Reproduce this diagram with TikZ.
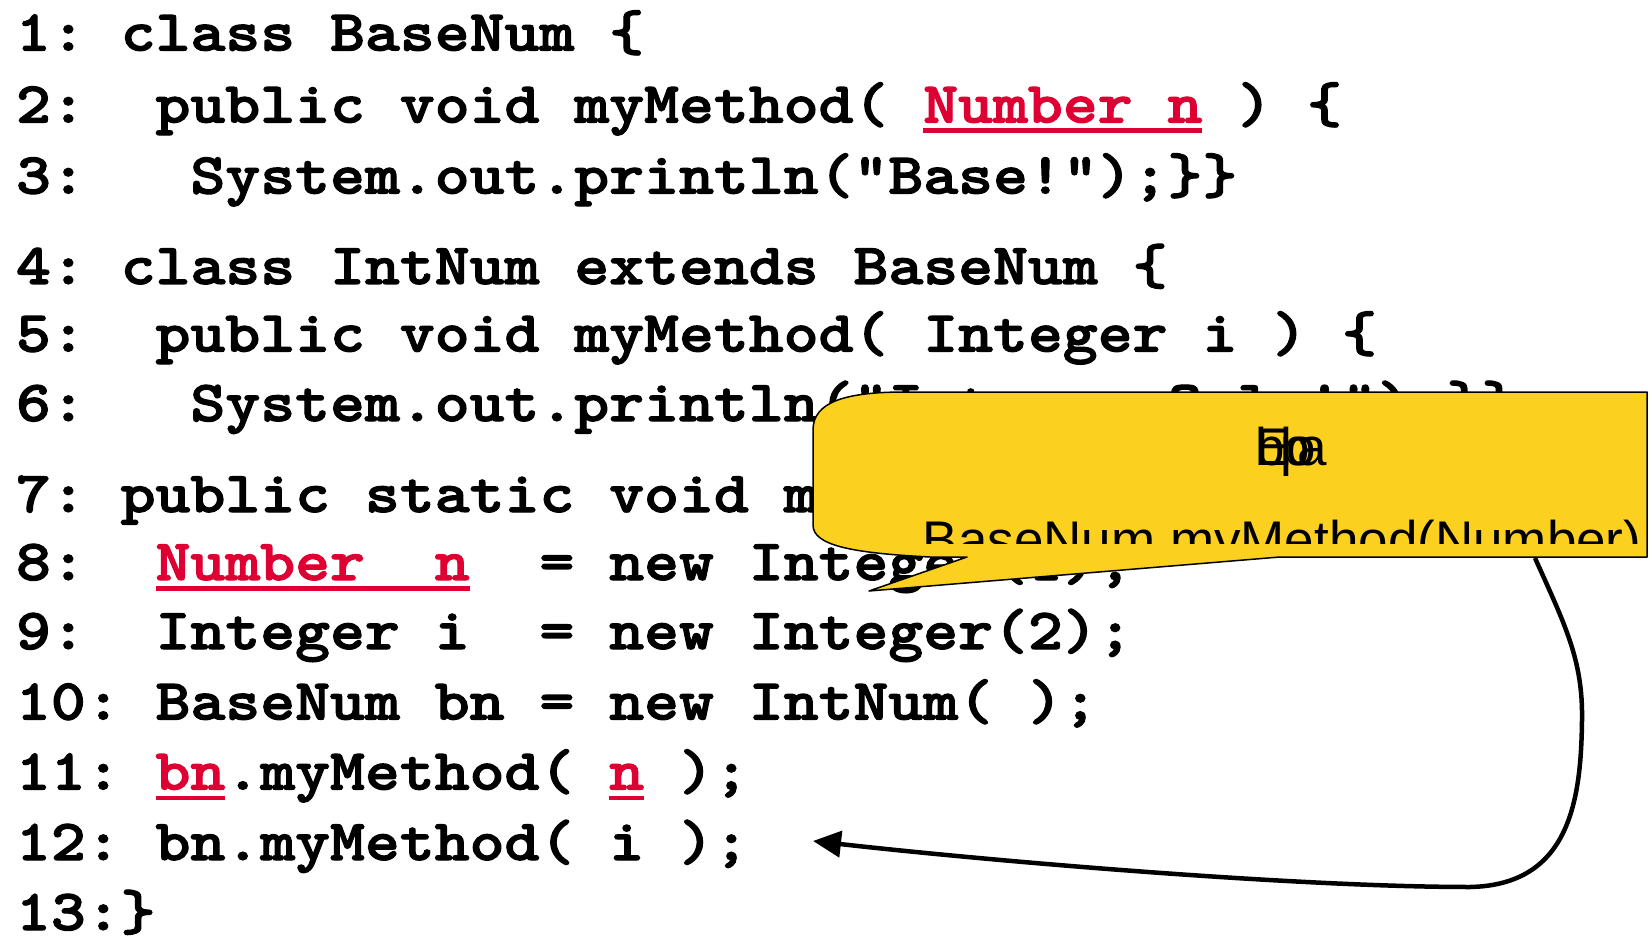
\documentclass[tikz,border=0pt]{standalone}
\usepackage{fontspec}
\usetikzlibrary{arrows.meta}
% bold typewriter face, widened to a 0.6em pitch
\newfontfamily\codefont{lmmonolt10-bold.otf}[FakeStretch=1.146, FakeBold=2]
\newfontfamily\notefont{Liberation Sans}
\definecolor{codered}{RGB}{222,0,50}
\definecolor{noteyellow}{RGB}{252,208,31}
% red, underlined code fragment
\newcommand\redul[1]{\sbox0{\textcolor{codered}{#1}}\rlap{\textcolor{codered}{\rule[-10.5pt]{\wd0}{4.5pt}}}\usebox0}
\tikzset{
  codeline/.style={anchor=base west, inner sep=0pt, outer sep=0pt,
    font=\codefont\fontsize{58pt}{58pt}\selectfont},
  notetext/.style={inner sep=0pt, outer sep=0pt,
    font=\notefont\fontsize{53pt}{53pt}\selectfont},
  balloon/.style={fill=noteyellow, draw=black, line width=1.5pt, line join=round},
  callarrow/.style={draw=black, line width=4.5pt, -{Triangle[length=28pt,width=26pt]}}
}
\begin{document}
\begin{tikzpicture}[x=1pt, y=-1pt]
\useasboundingbox (0,0) rectangle (1649,941);
\fill[white] (0,0) rectangle (1649,941);

% the Java listing
\node[codeline] (l1)  at (16,50.5)  {1:~class~BaseNum~\{};
\node[codeline] (l2)  at (16,122.5) {2:~~public~void~myMethod(~\redul{Number~n}~)~\{};
\node[codeline] (l3)  at (16,193.5) {3:~~~System.out.println("Base!");\}\}};
\node[codeline] (l4)  at (16,284)   {4:~class~IntNum~extends~BaseNum~\{};
\node[codeline] (l5)  at (16,351.5) {5:~~public~void~myMethod(~Integer~i~)~\{};
\node[codeline] (l6)  at (16,421)   {6:~~~System.out.println("Integer~Only!");\}\}};
\node[codeline] (l7)  at (16,512)   {7:~public~static~void~main(String[]~args)~\{};
\node[codeline] (l8)  at (16,580)   {8:~~\redul{Number~~n}~~=~new~Integer(1);};
\node[codeline] (l9)  at (16,649)   {9:~~Integer~i~~=~new~Integer(2);};
\node[codeline] (l10) at (16,719.5) {10:~BaseNum~bn~=~new~IntNum(~);};
\node[codeline] (l11) at (16,789.5) {11:~\redul{bn}.myMethod(~\redul{n}~);};
\node[codeline] (l12) at (16,860)   {12:~bn.myMethod(~i~);};
\node[codeline] (l13) at (16,930)   {13:\}};

% speech balloon
\draw[balloon] (900,392) -- (1647,392) -- (1647,557) -- (1280,557)
  -- (869,591) -- (967,557) -- (930,557)
  .. controls (850,553) and (813,545) .. (813,525)
  -- (813,430) .. controls (813,402) and (845,392) .. (905,392) -- cycle;
\begin{scope}
  \clip (813,392) rectangle (1647,543);
  \node[notetext, anchor=base west] (glyphs) at (1255,465)
    {\rlap{E}\rlap{b}\hspace{25pt}\rlap{l}\rlap{p}\hspace{6pt}\rlap{o}\hspace{12pt}a};
  \node[notetext, anchor=base] (notesig) at (1282,558) {BaseNum.myMethod(Number)};
\end{scope}

% call resolution arrow back to line 12
\coordinate (noteout) at (1535,558);
\coordinate (target) at (813,841);
\draw[callarrow] (noteout) .. controls (1565,625) and (1583,660) .. (1582,720)
  .. controls (1581,800) and (1570,885) .. (1470,887)
  .. controls (1300,887) and (1000,862) .. (target);
\end{tikzpicture}
\end{document}
